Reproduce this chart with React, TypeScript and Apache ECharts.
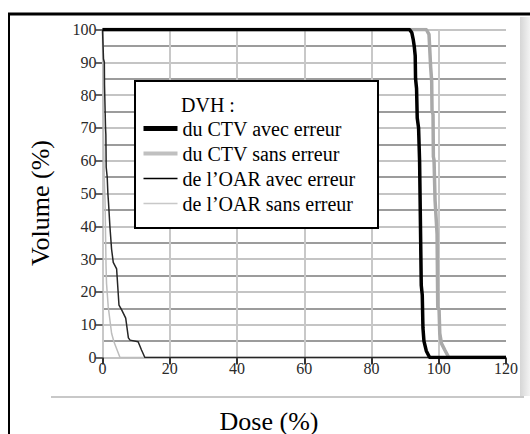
import React, { useEffect, useRef } from "react";
import * as echarts from "echarts";

// ---- data ----
const xTicks = [0, 20, 40, 60, 80, 100, 120];
const yTicks = [0, 10, 20, 30, 40, 50, 60, 70, 80, 90, 100];

const seriesNames = [
  "du CTV avec erreur",
  "du CTV sans erreur",
  "de l\u2019OAR avec erreur",
  "de l\u2019OAR sans erreur",
];

const ctvAvecDose = [0, 91.3, 92.0, 92.4, 92.7, 93.0, 93.1, 93.4, 93.6, 94.0, 94.3, 94.5, 94.8, 95.1, 95.3, 95.6, 96.3, 97.3, 120];
const ctvAvecVolume = [100, 100, 99, 97, 95, 92, 85, 82, 73, 70, 60, 45, 22, 19, 9, 5, 2, 0, 0];

const ctvSansDose = [0, 96.3, 97.1, 97.3, 97.6, 97.9, 98.0, 98.3, 98.4, 98.6, 98.9, 99.5, 99.7, 100.1, 100.3, 100.8, 101.8, 103.0, 120];
const ctvSansVolume = [100, 100, 98.5, 94.5, 88.4, 84.3, 75.2, 74.1, 61.2, 60.2, 48, 37.7, 15.4, 14.5, 7.4, 4.3, 2.3, 0, 0];

const oarAvecDose = [0, 0.2, 0.3, 0.55, 0.6, 0.9, 1.0, 1.1, 1.4, 1.6, 1.8, 2.2, 2.7, 3.2, 4.2, 4.9, 5.7, 6.9, 7.7, 8.2, 10.6, 11.6, 12.6, 120];
const oarAvecVolume = [100, 100, 91, 90, 83, 70, 68, 58, 55, 50, 47, 40, 33, 29, 27, 16, 14.5, 12, 6, 5.3, 4.8, 2.3, 0, 0];

const oarSansDose = [0, 0.1, 0.3, 0.5, 0.75, 1.05, 1.2, 1.7, 2.7, 3.4, 5.2, 120];
const oarSansVolume = [100, 82, 70, 55, 48, 28, 22.6, 15.5, 7.4, 4.8, 0, 0];

const pairs = (xs: number[], ys: number[]) => xs.map((x, i) => [x, ys[i]]);

const SERIF = "Liberation Serif, serif";
const NARROW = "Liberation Sans Narrow";

export default function App() {
  const ref = useRef<HTMLDivElement>(null);

  useEffect(() => {
    if (!ref.current) return;
    const chart = echarts.init(ref.current, undefined, { renderer: "svg" });
    const option: any = {
      animation: false,
      backgroundColor: "#ffffff",
      textStyle: { fontFamily: SERIF },
      grid: { left: 102.5, right: 24, top: 29.5, bottom: 76.5, containLabel: false },
      xAxis: {
        type: "value",
        min: xTicks[0],
        max: xTicks[xTicks.length - 1],
        interval: xTicks[1] - xTicks[0],
        offset: 2,
        axisLine: { show: false },
        axisTick: { show: true, length: 7, lineStyle: { color: "#333", width: 2 } },
        axisLabel: { margin: 1, color: "#2a2a2a", fontFamily: NARROW, fontSize: 16 },
        splitLine: { show: true, showMaxLine: false, lineStyle: { color: "#c8c8c8", width: 2 } },
      },
      yAxis: {
        type: "value",
        min: yTicks[0],
        max: yTicks[yTicks.length - 1],
        interval: yTicks[1] - yTicks[0],
        offset: 5,
        axisLine: { show: false },
        axisTick: { show: true, length: 7, lineStyle: { color: "#333", width: 1.5 } },
        axisLabel: { margin: 1, color: "#2a2a2a", fontFamily: NARROW, fontSize: 16 },
        splitLine: { show: true, lineStyle: { color: "#c4c4c4", width: 2 } },
        minorTick: { show: false, splitNumber: 2 },
        minorSplitLine: { show: true, lineStyle: { color: "#9c9c9c", width: 2 } },
      },
      legend: {
        orient: "vertical",
        left: 141,
        top: 118.5,
        itemWidth: 34,
        itemHeight: 20,
        itemGap: 5,
        padding: 0,
        selectedMode: false,
        itemStyle: { opacity: 0, borderWidth: 0 },
        textStyle: { fontFamily: SERIF, fontSize: 20, color: "#000" },
        data: [
          { name: seriesNames[0], lineStyle: { width: 5, color: "#000000" } },
          { name: seriesNames[1], lineStyle: { width: 4, color: "#c0c0c0" } },
          { name: seriesNames[2], lineStyle: { width: 1.5, color: "#000000" } },
          { name: seriesNames[3], lineStyle: { width: 1.5, color: "#c8c8c8" } },
        ],
      },
      graphic: {
        elements: [
          // outer frame of the figure (top and left edges)
          { type: "rect", id: "frameTop", shape: { x: 8, y: 12.5, width: 522, height: 3 }, style: { fill: "#000000" }, z: 100 },
          { type: "rect", id: "frameLeft", shape: { x: 8, y: 13, width: 2, height: 421 }, style: { fill: "#000000" }, z: 100 },
          { type: "rect", id: "frameBottom", shape: { x: 51, y: 396, width: 473, height: 2 }, style: { fill: "#c8c8c8" }, z: 10 },
          {
            type: "rect",
            id: "frameRight",
            shape: { x: 520, y: 17, width: 10, height: 379 },
            style: {
              fill: new echarts.graphic.LinearGradient(0, 0, 1, 0, [
                { offset: 0, color: "#d6d6d6" },
                { offset: 1, color: "#f3f3f3" },
              ]),
            },
            z: 10,
          },
          // legend box
          {
            type: "rect",
            id: "legendBox",
            shape: { x: 135, y: 81, width: 243, height: 147 },
            style: { fill: "#ffffff", stroke: "#000000", lineWidth: 2 },
            z: 3,
          },
          {
            type: "text",
            id: "legendTitle",
            x: 181,
            y: 105,
            style: { text: "DVH :", font: `20px ${SERIF}`, fill: "#000", verticalAlign: "middle" },
            z: 5,
          },
          // axis titles
          {
            type: "text",
            id: "xTitle",
            x: 269,
            y: 421,
            style: { text: "Dose (%)", font: `26px ${SERIF}`, fill: "#000", align: "center", verticalAlign: "middle" },
            z: 10,
          },
          {
            type: "text",
            id: "yTitle",
            x: 40.5,
            y: 203,
            rotation: Math.PI / 2,
            style: { text: "Volume (%)", font: `26px ${SERIF}`, fill: "#000", align: "center", verticalAlign: "middle" },
            z: 10,
          },
        ],
      },
      series: [
        {
          name: seriesNames[3],
          type: "line",
          symbol: "none",
          data: pairs(oarSansDose, oarSansVolume),
          lineStyle: { color: "#bdbdbd", width: 1.5 },
          itemStyle: { color: "#c8c8c8" },
        },
        {
          name: seriesNames[1],
          type: "line",
          symbol: "none",
          data: pairs(ctvSansDose, ctvSansVolume),
          lineStyle: { color: "#a9a9a9", width: 3.5 },
          itemStyle: { color: "#c0c0c0" },
        },
        {
          name: seriesNames[2],
          type: "line",
          symbol: "none",
          data: pairs(oarAvecDose, oarAvecVolume),
          lineStyle: { color: "#262626", width: 1.5 },
          itemStyle: { color: "#000" },
        },
        {
          name: seriesNames[0],
          type: "line",
          symbol: "none",
          data: pairs(ctvAvecDose, ctvAvecVolume),
          lineStyle: { color: "#000000", width: 3.5 },
          itemStyle: { color: "#000" },
        },
      ],
    };
    chart.setOption(option);
    return () => chart.dispose();
  }, []);

  return (
    <div
      ref={ref}
      style={{ position: "fixed", left: 0, top: 0, width: 530, height: 434, background: "#fff" }}
    />
  );
}
